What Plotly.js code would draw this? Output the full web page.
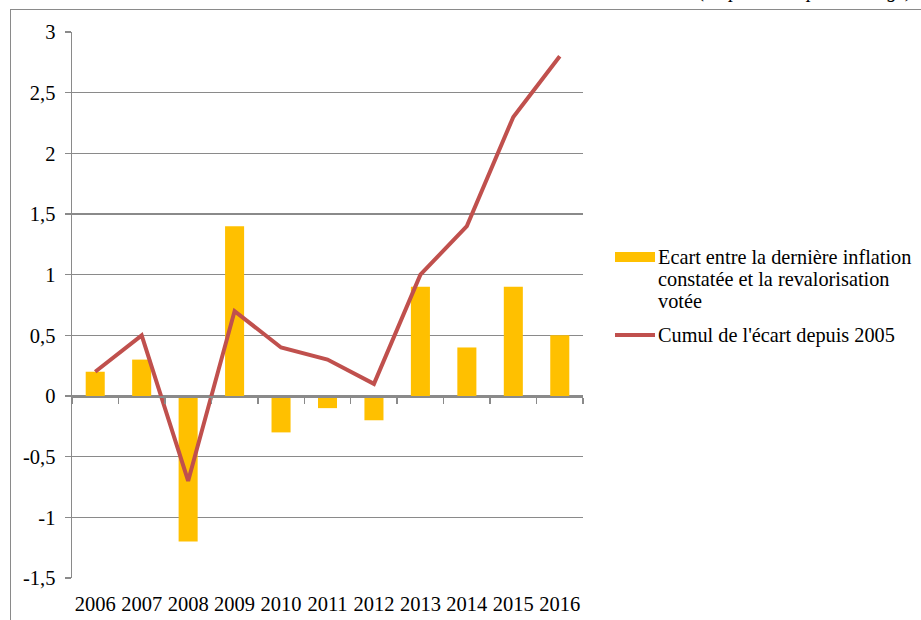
<!DOCTYPE html>
<html>
<head>
<meta charset="utf-8">
<script src="https://cdn.plot.ly/plotly-3.0.1.min.js"></script>
<style>
  html, body { margin: 0; padding: 0; background: #fff; font-family: 'Liberation Serif', serif; }
  #wrap { position: relative; width: 921px; height: 620px; overflow: hidden; }
  #chart { position: absolute; left: 0; top: 0; width: 921px; height: 620px; }
  #frame { position: absolute; left: 10px; top: 9px; width: 930px; height: 640px;
           border-left: 1px solid #8a8a8a; border-top: 1px solid #8a8a8a; pointer-events: none; }
  #note { position: absolute; right: 8px; top: -20px; line-height: 20px; font-size: 20px;
          font-style: italic; font-family: 'Liberation Serif', serif; white-space: nowrap; color: #000; }
</style>
</head>
<body>
<div id="wrap">
  <div id="chart"></div>
  <div id="frame"></div>
  <div id="note"></div>
</div>
<script>
// ---- data ----
const years = ['2006','2007','2008','2009','2010','2011','2012','2013','2014','2015','2016'];
const ecart = [0.2, 0.3, -1.2, 1.4, -0.3, -0.1, -0.2, 0.9, 0.4, 0.9, 0.5];
const cumul = [0.2, 0.5, -0.7, 0.7, 0.4, 0.3, 0.1, 1.0, 1.4, 2.3, 2.8];
const yTickVals = [-1.5, -1, -0.5, 0, 0.5, 1, 1.5, 2, 2.5, 3];
const yTickText = ['-1,5', '-1', '-0,5', '0', '0,5', '1', '1,5', '2', '2,5', '3'];
const legendBar = ['Ecart entre la dernière inflation', 'constatée et la revalorisation', 'votée'];
const legendLine = 'Cumul de l\'écart depuis 2005';
const unitNote = '(en points de pourcentage)';

document.getElementById('note').textContent = unitNote;

// ---- layout helpers (pixel -> paper) ----
const L = 72, R = 583, T = 32, B = 578;
const px = x => (x - L) / (R - L);
const py = y => (B - y) / (B - T);

const SERIF = 'Liberation Serif';
const GRID = '#8a8a8a';
const BAR = '#FFC000';
const LINE = '#C0504D';

const traces = [
  {
    type: 'bar', x: years, y: ecart, xaxis: 'x', yaxis: 'y',
    marker: { color: BAR }, width: 0.41, hoverinfo: 'skip', showlegend: false
  },
  {
    type: 'scatter', mode: 'lines', x: years, y: cumul, xaxis: 'x2', yaxis: 'y',
    line: { color: LINE, width: 4 }, hoverinfo: 'skip', showlegend: false
  }
];

const annotations = [];
legendBar.forEach((t, i) => {
  annotations.push({
    xref: 'paper', yref: 'paper', x: px(656), y: py(257 + i * 22),
    xanchor: 'left', yanchor: 'middle', showarrow: false, text: t,
    font: { family: SERIF, size: 20.3, color: 'black' }
  });
});
annotations.push({
  xref: 'paper', yref: 'paper', x: px(656), y: py(335),
  xanchor: 'left', yanchor: 'middle', showarrow: false, text: legendLine,
  font: { family: SERIF, size: 20.3, color: 'black' }
});

const shapes = [
  { type: 'rect', xref: 'paper', yref: 'paper', x0: px(615), x1: px(655), y0: py(252), y1: py(262),
    fillcolor: BAR, line: { width: 0 } },
  { type: 'line', xref: 'paper', yref: 'paper', x0: px(615), x1: px(655), y0: py(335), y1: py(335),
    line: { color: LINE, width: 4 } }
];

const layout = {
  width: 921, height: 620,
  margin: { l: L, r: 921 - R, t: T, b: 620 - B, pad: 0 },
  paper_bgcolor: 'rgba(0,0,0,0)', plot_bgcolor: 'rgba(0,0,0,0)',
  font: { family: SERIF, size: 20, color: 'black' },
  showlegend: false,
  xaxis: {
    type: 'category', categoryarray: years, range: [-0.5, 10.5],
    showline: false, showgrid: false, zeroline: false, ticks: '',
    tickfont: { family: SERIF, size: 20.5, color: 'black' }, ticklabelstandoff: 11,
    fixedrange: true
  },
  xaxis2: {
    type: 'category', categoryarray: years, range: [-0.5, 10.5],
    overlaying: 'x', anchor: 'free', position: py(396) , side: 'bottom',
    showline: true, linecolor: GRID, linewidth: 1.5,
    showgrid: false, zeroline: false, showticklabels: false,
    ticks: 'outside', tickson: 'boundaries', ticklen: 6, tickcolor: GRID, tickwidth: 1.5,
    fixedrange: true
  },
  yaxis: {
    range: [-1.5, 3], tickvals: yTickVals, ticktext: yTickText,
    showline: true, linecolor: GRID, linewidth: 1.5,
    showgrid: true, gridcolor: GRID, gridwidth: 1.2, zeroline: false,
    ticks: 'outside', ticklen: 6, tickcolor: GRID, tickwidth: 1.5,
    tickfont: { family: SERIF, size: 20.5, color: 'black' }, ticklabelstandoff: 5,
    fixedrange: true
  },
  annotations: annotations,
  shapes: shapes
};

function draw() {
  Plotly.newPlot('chart', traces, layout, { displayModeBar: false, staticPlot: true });
}
if (document.fonts && document.fonts.load) {
  document.fonts.load('20px "Liberation Serif"').then(draw, draw);
} else {
  draw();
}
</script>
</body>
</html>
